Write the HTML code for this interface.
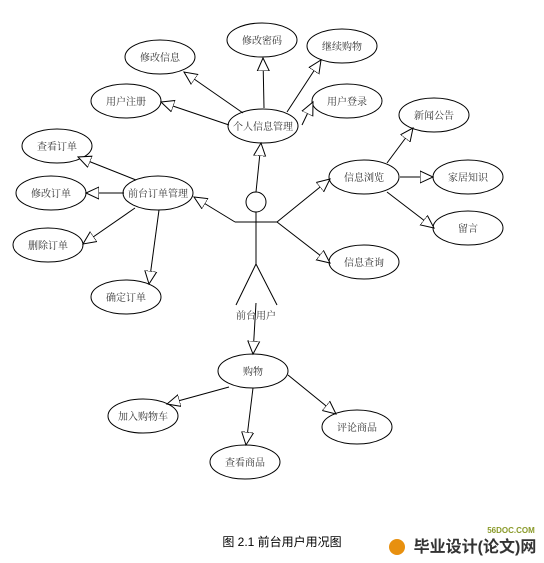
<!DOCTYPE html>
<html><head><meta charset="utf-8"><style>
html,body{margin:0;padding:0;background:#fff;}
svg{display:block;}
text{font-family:"Liberation Serif","Noto Serif CJK SC",serif;font-size:10px;fill:#333;}
</style></head><body>
<svg width="544" height="563" viewBox="0 0 544 563" xmlns="http://www.w3.org/2000/svg">
<defs>
<marker id="a" markerUnits="userSpaceOnUse" markerWidth="16" markerHeight="16" refX="13" refY="7" orient="auto">
<path d="M0,1 L13,7 L0,13 Z" fill="#fff" stroke="#000" stroke-width="1"/>
</marker>
</defs>
<g stroke="#000" stroke-width="1" fill="#fff">
<ellipse cx="262" cy="40" rx="35" ry="17"/>
<ellipse cx="160" cy="57" rx="35" ry="17"/>
<ellipse cx="342" cy="46" rx="35" ry="17"/>
<ellipse cx="126" cy="101" rx="35" ry="17"/>
<ellipse cx="347" cy="101" rx="35" ry="17"/>
<ellipse cx="263" cy="126" rx="35" ry="17"/>
<ellipse cx="434" cy="115" rx="35" ry="17"/>
<ellipse cx="57" cy="146" rx="35" ry="17"/>
<ellipse cx="364" cy="177" rx="35" ry="17"/>
<ellipse cx="468" cy="177" rx="35" ry="17"/>
<ellipse cx="51" cy="193" rx="35" ry="17"/>
<ellipse cx="158" cy="193" rx="35" ry="17"/>
<ellipse cx="48" cy="245" rx="35" ry="17"/>
<ellipse cx="468" cy="228" rx="35" ry="17"/>
<ellipse cx="364" cy="262" rx="35" ry="17"/>
<ellipse cx="126" cy="297" rx="35" ry="17"/>
<ellipse cx="253" cy="371" rx="35" ry="17"/>
<ellipse cx="143" cy="416" rx="35" ry="17"/>
<ellipse cx="357" cy="427" rx="35" ry="17"/>
<ellipse cx="245" cy="462" rx="35" ry="17"/>
<circle cx="256" cy="202" r="10"/>
</g>
<g stroke="#000" stroke-width="1" fill="none">
<line x1="235" y1="222" x2="277" y2="222"/>
<line x1="256" y1="212" x2="256" y2="264"/>
<line x1="256" y1="264" x2="236" y2="305"/>
<line x1="256" y1="264" x2="277" y2="305"/>
</g>
<g stroke="#000" stroke-width="1" marker-end="url(#a)">
<line x1="256" y1="192" x2="261" y2="143"/>
<line x1="235" y1="222" x2="194" y2="197"/>
<line x1="277" y1="222" x2="330" y2="179"/>
<line x1="277" y1="222" x2="330" y2="263"/>
<line x1="256" y1="303" x2="253" y2="354"/>
<line x1="229" y1="125" x2="161" y2="102"/>
<line x1="243" y1="113" x2="184" y2="72"/>
<line x1="264" y1="108" x2="263" y2="58"/>
<line x1="287" y1="112" x2="321" y2="60"/>
<line x1="302" y1="125" x2="313" y2="102"/>
<line x1="387" y1="163" x2="413" y2="128"/>
<line x1="400" y1="177" x2="433" y2="177"/>
<line x1="387" y1="192" x2="434" y2="228"/>
<line x1="136" y1="180" x2="78" y2="157"/>
<line x1="124" y1="193" x2="86" y2="193"/>
<line x1="135" y1="208" x2="83" y2="244"/>
<line x1="159" y1="210" x2="149" y2="284"/>
<line x1="229" y1="387" x2="167" y2="404"/>
<line x1="253" y1="388" x2="246" y2="445"/>
<line x1="288" y1="375" x2="336" y2="414"/>
</g>
<g text-anchor="middle">
<text x="262" y="44">修改密码</text>
<text x="160" y="61">修改信息</text>
<text x="342" y="50">继续购物</text>
<text x="126" y="105">用户注册</text>
<text x="347" y="105">用户登录</text>
<text x="263" y="130">个人信息管理</text>
<text x="434" y="119">新闻公告</text>
<text x="57" y="150">查看订单</text>
<text x="364" y="181">信息浏览</text>
<text x="468" y="181">家居知识</text>
<text x="51" y="197">修改订单</text>
<text x="158" y="197">前台订单管理</text>
<text x="48" y="249">删除订单</text>
<text x="468" y="232">留言</text>
<text x="364" y="266">信息查询</text>
<text x="126" y="301">确定订单</text>
<text x="256" y="319">前台用户</text>
<text x="253" y="375">购物</text>
<text x="143" y="420">加入购物车</text>
<text x="357" y="431">评论商品</text>
<text x="245" y="466">查看商品</text>
<text x="282" y="546" style="font-family:'Liberation Sans','Noto Sans CJK SC',sans-serif;font-size:12px;fill:#000">图 2.1  前台用户用况图</text>
</g>
<circle cx="397" cy="547" r="8" fill="#e8900f"/>
<text x="511" y="533" text-anchor="middle" style="font-family:'Liberation Sans',sans-serif;font-size:8px;font-weight:bold;fill:#8a9a2a">56DOC.COM</text>
<text x="475" y="552" text-anchor="middle" style="font-family:'Liberation Sans','Noto Sans CJK SC',sans-serif;font-size:16px;font-weight:bold;fill:#333">毕业设计(论文)网</text>
</svg>
</body></html>
